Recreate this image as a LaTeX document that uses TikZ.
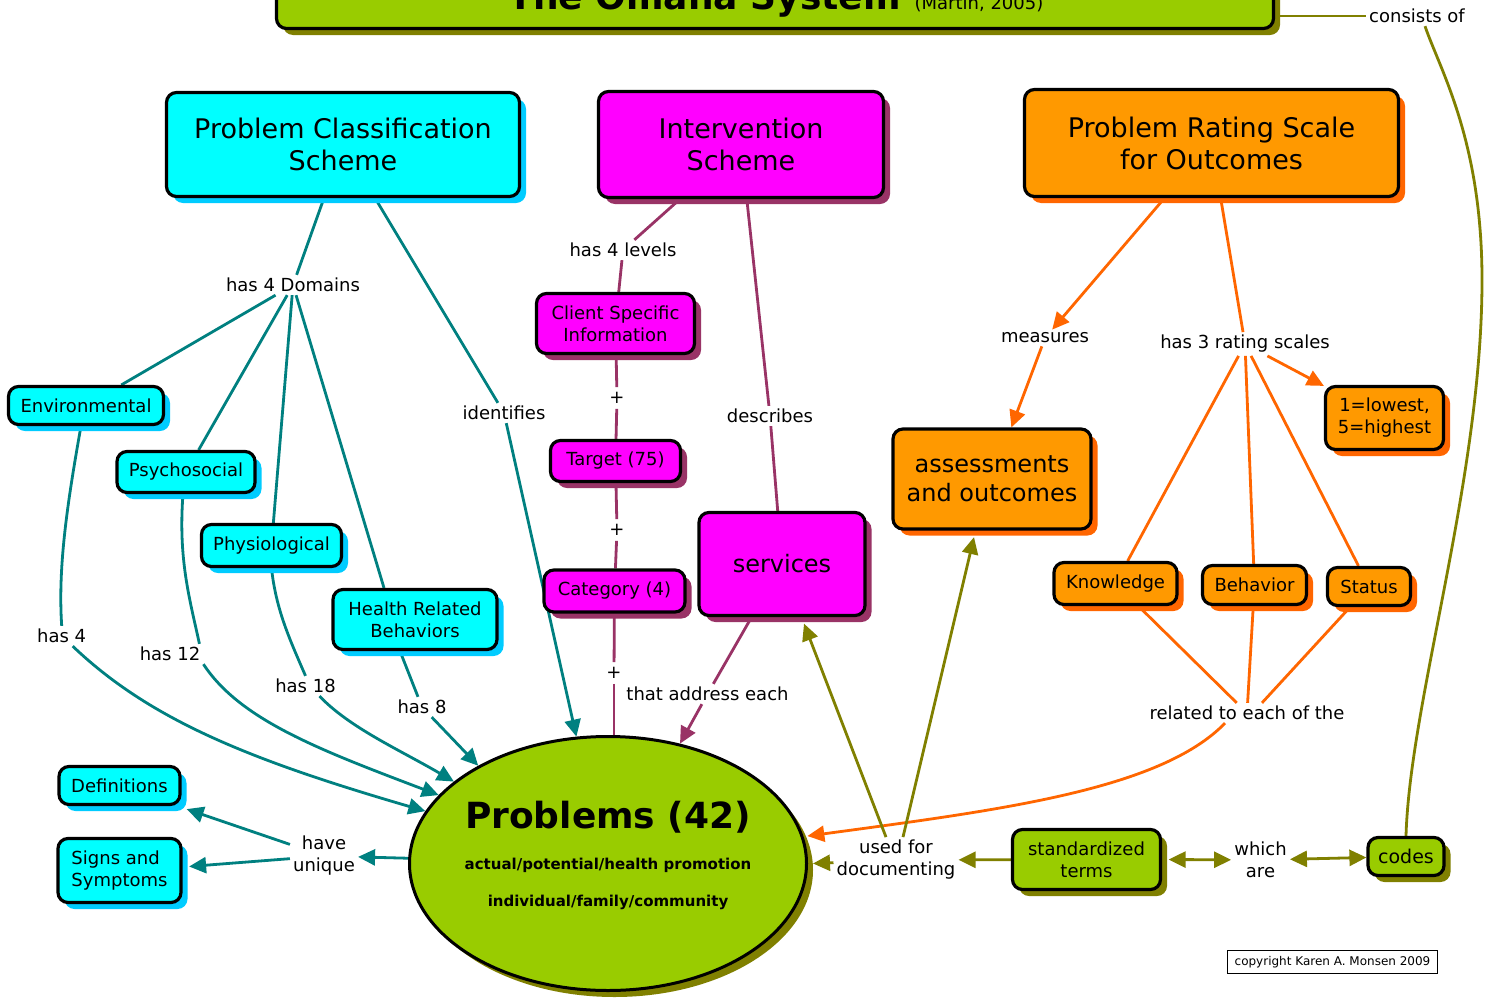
\documentclass[tikz,border=0pt]{standalone}
\usepackage{fontspec}
\setmainfont{DejaVu Sans}
\usetikzlibrary{shapes.geometric,arrows.meta,shadows,calc}

\definecolor{cyF}{RGB}{0,255,255}
\definecolor{cyS}{RGB}{0,204,255}
\definecolor{mgF}{RGB}{255,0,255}
\definecolor{mgS}{RGB}{153,51,102}
\definecolor{orF}{RGB}{255,153,0}
\definecolor{orS}{RGB}{255,102,0}
\definecolor{grF}{RGB}{153,204,0}
\definecolor{grS}{RGB}{128,128,0}
\definecolor{tealL}{RGB}{0,128,128}

\newcommand{\fHead}{\fontsize{27}{32}\selectfont}
\newcommand{\fMid}{\fontsize{24}{29}\selectfont}
\newcommand{\fSmall}{\fontsize{18}{22}\selectfont}
\newcommand{\fLink}{\fontsize{18}{22}\selectfont}
\newcommand{\fProb}{\fontsize{36}{40}\selectfont\bfseries}
\newcommand{\fSub}{\fontsize{15}{18}\selectfont\bfseries}
\newcommand{\fCopy}{\fontsize{12}{14}\selectfont}
\newcommand{\fCodes}{\fontsize{19}{23}\selectfont}
\newcommand{\fTitle}{\fontsize{36}{40}\selectfont\bfseries}
\newcommand{\fCite}{\fontsize{18}{20}\selectfont}

\pgfdeclarelayer{bgfill}
\pgfdeclarelayer{edges}
\pgfsetlayers{bgfill,edges,main}

\tikzset{
  bx/.style={draw=black, line width=3.2pt, rounded corners=10pt, align=center, inner sep=0pt, text=black},
  cybox/.style={bx, fill=cyF, drop shadow={shadow xshift=6.5pt, shadow yshift=-6.5pt, fill=cyS, opacity=1}},
  mgbox/.style={bx, fill=mgF, drop shadow={shadow xshift=6.5pt, shadow yshift=-6.5pt, fill=mgS, opacity=1}},
  orbox/.style={bx, fill=orF, drop shadow={shadow xshift=6.5pt, shadow yshift=-6.5pt, fill=orS, opacity=1}},
  grbox/.style={bx, fill=grF, drop shadow={shadow xshift=6.5pt, shadow yshift=-6.5pt, fill=grS, opacity=1}},
  lbl/.style={inner sep=3pt, align=center, font=\fLink, text=black},
  plus/.style={inner sep=5pt, font=\fLink, text=black},
  tl/.style={draw=tealL, line width=2.8pt},
  ml/.style={draw=mgS, line width=2.8pt},
  ol/.style={draw=orS, line width=2.8pt},
  gl/.style={draw=grS, line width=2.8pt},
  arr/.style={-{Triangle[length=17pt,width=16pt]}},
  darr/.style={{Triangle[length=17pt,width=16pt]}-{Triangle[length=17pt,width=16pt]}},
}

\begin{document}
\begin{tikzpicture}[x=1pt,y=-1pt]
\useasboundingbox (0,0) rectangle (1486,999);
\begin{pgfonlayer}{bgfill}
\fill[white] (0,0) rectangle (1486,999);
\end{pgfonlayer}

% ---------- title ----------
\node[grbox, minimum width=997pt, minimum height=97pt] (title) at (775,-20) {};
\node[anchor=base, inner sep=0pt] (titletxt) at (776,9) {{\fTitle The Omaha System}\hspace{14pt}{\fCite (Martin, 2005)}};
\node[lbl] (consists) at (1417,16) {consists of};

% ---------- main schemes ----------
\node[cybox, font=\fHead, minimum width=353pt, minimum height=104pt] (pcs) at (343,144.5) {Problem Classification\\Scheme};
\node[mgbox, font=\fHead, minimum width=285pt, minimum height=106pt] (is) at (741,144.5) {Intervention\\Scheme};
\node[orbox, font=\fHead, minimum width=374pt, minimum height=107pt] (prs) at (1211.5,143) {Problem Rating Scale\\for Outcomes};

% ---------- cyan ----------
\node[cybox, font=\fSmall, minimum width=155pt, minimum height=38pt] (env) at (86,405.5) {Environmental};
\node[cybox, font=\fSmall, minimum width=138pt, minimum height=41pt] (psy) at (186,472) {Psychosocial};
\node[cybox, font=\fSmall, minimum width=140pt, minimum height=42pt] (phys) at (271.5,545.5) {Physiological};
\node[cybox, font=\fSmall, minimum width=164pt, minimum height=60pt] (hrb) at (415,619.5) {Health Related\\Behaviors};
\node[cybox, font=\fSmall, minimum width=121pt, minimum height=38pt] (defs) at (119.5,785.5) {Definitions};
\node[cybox, font=\fSmall, align=left, minimum width=123pt, minimum height=64pt] (signs) at (119.5,870.5) {Signs and\\Symptoms};

% ---------- magenta ----------
\node[mgbox, font=\fSmall, minimum width=158pt, minimum height=60pt] (client) at (615.5,323.5) {Client Specific\\Information};
\node[mgbox, font=\fSmall, minimum width=130pt, minimum height=41pt] (target) at (615.5,461) {Target (75)};
\node[mgbox, font=\fSmall, minimum width=141pt, minimum height=42pt] (cat) at (614.5,591) {Category (4)};
\node[mgbox, font=\fMid, minimum width=166pt, minimum height=103pt] (serv) at (782,564) {services};

% ---------- orange ----------
\node[orbox, font=\fMid, minimum width=198pt, minimum height=100pt] (assess) at (992,479) {assessments\\and outcomes};
\node[orbox, font=\fSmall, minimum width=118pt, minimum height=63pt] (lowest) at (1384.5,418) {1=lowest,\\5=highest};
\node[orbox, font=\fSmall, minimum width=123pt, minimum height=42pt] (know) at (1115.5,583.5) {Knowledge};
\node[orbox, font=\fSmall, minimum width=104pt, minimum height=39pt] (behav) at (1254.5,585) {Behavior};
\node[orbox, font=\fSmall, minimum width=83pt, minimum height=38pt] (status) at (1369,586.5) {Status};

% ---------- green ----------
\node[ellipse, draw=black, line width=3pt, fill=grF, inner sep=0pt, minimum width=397pt, minimum height=254pt,
      drop shadow={shadow xshift=6.5pt, shadow yshift=-6.5pt, fill=grS, opacity=1}] (prob) at (608,863.5) {};
\node[anchor=base, inner sep=0pt, font=\fProb] (probt) at (608,828) {Problems (42)};
\node[anchor=base, inner sep=0pt, font=\fSub] (probs1) at (608,869) {actual/potential/health promotion};
\node[anchor=base, inner sep=0pt, font=\fSub] (probs2) at (608,906) {individual/family/community};
\node[grbox, font=\fSmall, minimum width=148pt, minimum height=60pt] (std) at (1086.5,859.5) {standardized\\terms};
\node[grbox, font=\fCodes, minimum width=76pt, minimum height=38pt] (codes) at (1406,856.5) {codes};

% ---------- link labels ----------
\node[lbl] (dom) at (293,285) {has 4 Domains};
\node[lbl] (ident) at (504,413) {identifies};
\node[lbl] (has4) at (61.7,636) {has 4};
\node[lbl] (has12) at (170,654) {has 12};
\node[lbl] (has18) at (305.5,686) {has 18};
\node[lbl] (has8) at (422,707) {has 8};
\node[lbl] (lv) at (623,250) {has 4 levels};
\node[plus] (p1) at (617,398) {+};
\node[plus] (p2) at (617,530) {+};
\node[plus] (p3) at (614,673) {+};
\node[lbl] (desc) at (770,416) {describes};
\node[lbl] (addr) at (707.5,694) {that address each};
\node[lbl] (meas) at (1045,338) {measures};
\node[lbl] (rate) at (1245,344) {has 3 rating scales};
\node[lbl] (rel) at (1247,713) {related to each of the};
\node[lbl] (uniq) at (324,856) {have\\unique};
\node[lbl] (used) at (896,860) {used for\\documenting};
\node[lbl] (which) at (1260.5,860) {which\\are};
\node[draw=black, line width=1.2pt, font=\fCopy, inner sep=0pt, minimum width=210pt, minimum height=23pt] (copy) at (1332.5,962) {copyright Karen A. Monsen 2009};

% ---------- connectors ----------
\begin{pgfonlayer}{edges}
% teal
\draw[tl] (pcs) -- (dom);
\draw[tl] (dom) -- (env);
\draw[tl] (dom) -- (psy);
\draw[tl] (dom) -- (phys);
\draw[tl] (dom) -- ([xshift=-31pt]hrb.north);
\draw[tl] (pcs) -- (ident);
\draw[tl,arr] (ident) -- (prob.104);
\draw[tl] ([xshift=-5pt]env.south) .. controls (66,510) and (58,570) .. (has4.north);
\draw[tl,arr] ([xshift=11pt]has4.south) .. controls (150,720) and (250,760) .. (prob.164);
\draw[tl] ([xshift=-3pt]psy.south) .. controls (178,560) and (190,600) .. ([xshift=-4pt]has12.north east);
\draw[tl,arr] (has12.south east) .. controls (240,720) and (320,750) .. (prob.158);
\draw[tl] (phys.south) .. controls (276,610) and (290,640) .. (has18.north);
\draw[tl,arr] ([xshift=14pt]has18.south) .. controls (350,728) and (400,750) .. (prob.152);
\draw[tl] ([xshift=-15pt]hrb.south) -- (has8);
\draw[tl,arr] (has8) -- (prob.143);
\draw[tl,arr] (prob) -- (uniq);
\draw[tl,arr] (uniq) -- ([xshift=5pt,yshift=-3pt]defs.south east);
\draw[tl,arr] (uniq) -- ([xshift=6.5pt,yshift=4pt]signs.east);
% magenta
\draw[ml] (is) -- (lv);
\draw[ml] (lv) -- (client);
\draw[ml] (client) -- (p1);
\draw[ml] (p1) -- (target);
\draw[ml] (target) -- (p2);
\draw[ml] (p2) -- (cat);
\draw[ml] (cat) -- (p3);
\draw[ml] (p3) -- (prob.north -| p3);
\draw[ml] (is) -- (desc);
\draw[ml] (desc) -- (serv);
\draw[ml] (serv) -- (addr);
\draw[ml,arr] (addr) -- (prob.59);
% orange
\draw[ol,arr] (prs) -- (meas);
\draw[ol,arr] (meas) -- (assess);
\draw[ol] (prs) -- (rate);
\draw[ol,arr] (rate) -- (lowest);
\draw[ol] (rate) -- (know);
\draw[ol] (rate) -- (behav);
\draw[ol] (rate) -- (status);
\draw[ol] (know) -- (rel);
\draw[ol] (behav) -- (rel);
\draw[ol] (status) -- ([xshift=15pt]rel.north);
\draw[ol,arr] ([xshift=-22pt]rel.south) .. controls (1160,790) and (1000,810) .. ([xshift=4pt]prob.8);
% olive
\draw[gl] (title.east |- consists.west) -- (consists.west);
\draw[gl] (codes.north) .. controls (1410,700) and (1482,480) .. (1482,280) .. controls (1482,140) and (1440,70) .. ([xshift=8pt]consists.south);
\draw[gl,arr] ([xshift=-10pt]used.north) -- ([xshift=22pt,yshift=-6.5pt]serv.south);
\draw[gl,arr] ([xshift=7pt]used.north) -- ([xshift=-18pt,yshift=-6.5pt]assess.south);
\draw[gl,arr] (used) -- ([xshift=5pt]prob.east);
\draw[gl,arr] (std) -- (used);
\draw[gl,darr] ([xshift=6.5pt]std.east) -- (which);
\draw[gl,darr] (which) -- (codes);
\end{pgfonlayer}
\end{tikzpicture}
\end{document}
